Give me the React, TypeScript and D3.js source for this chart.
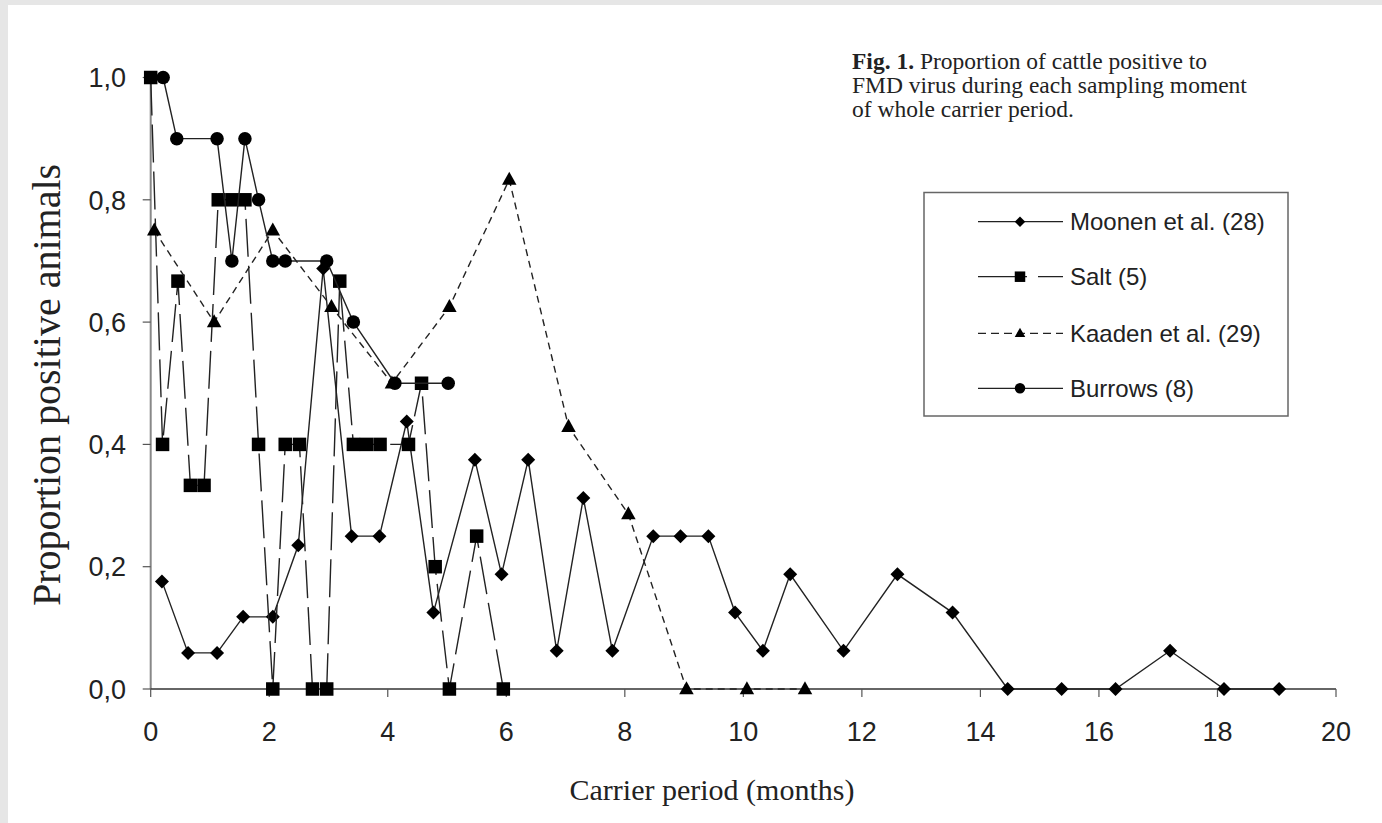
import React from "react"
import * as d3 from "d3"

// months after infection, proportion positive
const moonenX = [0.19, 0.63, 1.12, 1.56, 2.06, 2.49, 2.91, 3.39, 3.86, 4.32, 4.77, 5.47, 5.92, 6.37, 6.85, 7.3, 7.79, 8.48, 8.94, 9.41, 9.86, 10.33, 10.79, 11.69, 12.6, 13.53, 14.46, 15.37, 16.28, 17.2, 18.11, 19.04]
const moonenY = [0.176, 0.059, 0.059, 0.118, 0.118, 0.235, 0.6875, 0.25, 0.25, 0.4375, 0.125, 0.375, 0.1875, 0.375, 0.0625, 0.3125, 0.0625, 0.25, 0.25, 0.25, 0.125, 0.0625, 0.1875, 0.0625, 0.1875, 0.125, 0, 0, 0, 0.0625, 0, 0]

const saltX = [0, 0.2, 0.46, 0.67, 0.9, 1.14, 1.37, 1.59, 1.82, 2.06, 2.27, 2.51, 2.73, 2.97, 3.19, 3.42, 3.64, 3.87, 4.35, 4.57, 4.8, 5.04, 5.5, 5.95]
const saltY = [1, 0.4, 0.667, 0.333, 0.333, 0.8, 0.8, 0.8, 0.4, 0, 0.4, 0.4, 0, 0, 0.667, 0.4, 0.4, 0.4, 0.4, 0.5, 0.2, 0, 0.25, 0]

const kaadenX = [0.06, 1.07, 2.06, 3.05, 4.07, 5.04, 6.05, 7.05, 8.06, 9.04, 10.06, 11.04]
const kaadenY = [0.75, 0.6, 0.75, 0.625, 0.5, 0.625, 0.833, 0.429, 0.286, 0, 0, 0]

const burrowsX = [0.21, 0.44, 1.12, 1.37, 1.59, 1.82, 2.06, 2.27, 2.97, 3.42, 4.12, 5.02]
const burrowsY = [1, 0.9, 0.9, 0.7, 0.9, 0.8, 0.7, 0.7, 0.7, 0.6, 0.5, 0.5]

const seriesNames = ["Moonen et al. (28)", "Salt (5)", "Kaaden et al. (29)", "Burrows (8)"]
const xTicks = [0, 2, 4, 6, 8, 10, 12, 14, 16, 18, 20]
const yTicks = [0, 0.2, 0.4, 0.6, 0.8, 1.0]

const captionLines = ["Proportion of cattle positive to", "FMD virus during each sampling moment", "of whole carrier period."]

const W = 1382
const H = 823
const sans = "'Liberation Sans', Arial, sans-serif"
const serif = "'Liberation Serif', 'Times New Roman', serif"
const ink = "#222"

type Shape = "diamond" | "square" | "triangle" | "circle"

function marker(shape: Shape, cx: number, cy: number, s: number, key?: any) {
  if (shape === "circle") return <circle key={key} cx={cx} cy={cy} r={s / 2} fill="#000" />
  if (shape === "square") return <rect key={key} x={cx - s / 2} y={cy - s / 2} width={s} height={s} fill="#000" />
  if (shape === "diamond") {
    const r = s / 2
    return <path key={key} d={`M${cx},${cy - r}L${cx + r},${cy}L${cx},${cy + r}L${cx - r},${cy}Z`} fill="#000" />
  }
  const h = s * 0.9
  return <path key={key} d={`M${cx},${cy - h * 0.6}L${cx + s / 2},${cy + h * 0.4}L${cx - s / 2},${cy + h * 0.4}Z`} fill="#000" />
}

export default function App() {
  const x = d3.scaleLinear().domain([0, 20]).range([150.7, 1336])
  const y = d3.scaleLinear().domain([0, 1]).range([689, 77.5])
  const fmt = (v: number) => d3.format(".1f")(v).replace(".", ",")

  const line = d3
    .line<[number, number]>()
    .x(d => x(d[0]))
    .y(d => y(d[1]))

  const series = [
    { xs: moonenX, ys: moonenY, shape: "diamond" as Shape, dash: "none", size: 14, legDash: "none" },
    { xs: saltX, ys: saltY, shape: "square" as Shape, dash: "38,9", size: 13.5, legDash: "49,11,25" },
    { xs: kaadenX, ys: kaadenY, shape: "triangle" as Shape, dash: "7,5", size: 14.5, legDash: "8,5" },
    { xs: burrowsX, ys: burrowsY, shape: "circle" as Shape, dash: "none", size: 13.5, legDash: "none" },
  ]

  const legendY = [221.7, 276.7, 333.3, 388.3]

  return (
    <div style={{ position: "fixed", left: 0, top: 0 }}>
      <svg width={W} height={H} style={{ display: "block" }}>
        <rect width={W} height={H} fill="#e6e6e6" />
        <rect x={8} y={5} width={W - 8} height={H - 5} fill="#fff" />

        {/* caption */}
        <text x={852} y={69} fontFamily={serif} fontSize={23.5} fill={ink}>
          <tspan fontWeight="bold">Fig. 1.</tspan>
          <tspan> {captionLines[0]}</tspan>
        </text>
        <text x={852} y={93} fontFamily={serif} fontSize={23.5} fill={ink}>{captionLines[1]}</text>
        <text x={852} y={117} fontFamily={serif} fontSize={23.5} fill={ink}>{captionLines[2]}</text>

        {/* axes */}
        <line x1={x(0)} x2={x(0)} y1={y(0)} y2={y(1)} stroke="#888" strokeWidth={2} />
        <line x1={x(0)} x2={x(20)} y1={y(0)} y2={y(0)} stroke="#333" strokeWidth={1.3} />
        {yTicks.map(t => (
          <g key={"y" + t}>
            <line x1={x(0) - 8} x2={x(0)} y1={y(t)} y2={y(t)} stroke="#555" strokeWidth={1.2} />
            <text x={126} y={y(t) + 9.7} textAnchor="end" fontFamily={sans} fontSize={27} fill={ink}>{fmt(t)}</text>
          </g>
        ))}
        {xTicks.map(t => (
          <g key={"x" + t}>
            <line x1={x(t)} x2={x(t)} y1={y(0)} y2={y(0) + 8} stroke="#555" strokeWidth={1.2} />
            <text x={x(t)} y={741} textAnchor="middle" fontFamily={sans} fontSize={27} fill={ink}>{t}</text>
          </g>
        ))}

        <text x={712} y={800} textAnchor="middle" fontFamily={serif} fontSize={30} fill={ink}>Carrier period (months)</text>
        <text transform="translate(60,385) rotate(-90)" textAnchor="middle" fontFamily={serif} fontSize={40} fill={ink}>Proportion positive animals</text>

        {/* series */}
        {series.map((s, i) => {
          const pts = s.xs.map((v, j) => [v, s.ys[j]] as [number, number])
          return (
            <g key={"s" + i}>
              <path d={line(pts) || ""} fill="none" stroke="#222" strokeWidth={1.4} strokeDasharray={s.dash} />
              {pts.map((p, j) => marker(s.shape, x(p[0]), y(p[1]), s.size, j))}
            </g>
          )
        })}

        {/* legend */}
        <rect x={924} y={192.5} width={364} height={223.5} fill="#fff" stroke="#666" strokeWidth={1.5} />
        {series.map((s, i) => (
          <g key={"l" + i}>
            <line x1={978} x2={1063} y1={legendY[i]} y2={legendY[i]} stroke="#222" strokeWidth={1.3} strokeDasharray={s.legDash} />
            {marker(s.shape, 1020, legendY[i], 10.5)}
            <text x={1070} y={legendY[i] + 8.5} fontFamily={sans} fontSize={24} fill={ink}>{seriesNames[i]}</text>
          </g>
        ))}
      </svg>
    </div>
  )
}
